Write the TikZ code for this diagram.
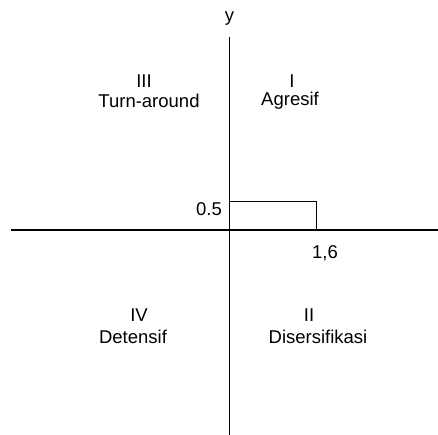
\documentclass[tikz,border=0pt]{standalone}
\usepackage{fontspec}
\setmainfont{Liberation Sans}
\begin{document}
\begin{tikzpicture}[x=1bp,y=-1bp,
  axis/.style={line width=1.1bp, black},
  lbl/.style={font=\fontsize{18.5bp}{20bp}\selectfont, inner sep=0pt, align=center}]
\useasboundingbox (0,0) rectangle (438,435);
\coordinate (xl) at (11,230);
\coordinate (xr) at (438,230);
\coordinate (yt) at (229.5,37);
\coordinate (yb) at (229.5,435);
\draw[axis] (xl) -- (xr);
\draw[axis] (yt) -- (yb);
\coordinate (p1) at (229.5,201);
\coordinate (p2) at (316.5,201);
\coordinate (p3) at (316.5,230);
\draw[line width=0.9bp] (p1) -- (p2) -- (p3);
\node[lbl, anchor=base] (y) at (229.5,22) {y};
\node[lbl, anchor=east] (v05) at (222,209) {0.5};
\node[lbl] (v16) at (325,253) {1,6};
\node[lbl] (q3) at (144,81) {III};
\node[lbl] (q3t) at (149,101) {Turn-around};
\node[lbl] (q1) at (292,81) {I};
\node[lbl] (q1t) at (290,101) {Agresif};
\node[lbl] (q4) at (139,315) {IV};
\node[lbl] (q4t) at (133,337) {Detensif};
\node[lbl] (q2) at (309,315) {II};
\node[lbl] (q2t) at (318,337) {Disersifikasi};
\end{tikzpicture}
\end{document}
